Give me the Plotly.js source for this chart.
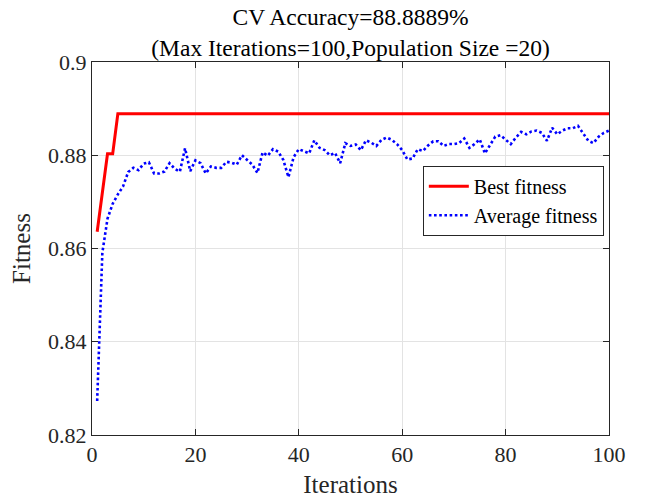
<!DOCTYPE html>
<html>
<head>
<meta charset="utf-8">
<script src="https://cdn.plot.ly/plotly-3.0.1.min.js"></script>
<style>html,body{margin:0;padding:0;background:#fff;}#chart{width:645px;height:498px;}</style>
</head>
<body>
<div id="chart"></div>
<script>
const iterations = [1,2,3,4,5,6,7,8,9,10,11,12,13,14,15,16,17,18,19,20,
  21,22,23,24,25,26,27,28,29,30,31,32,33,34,35,36,37,38,39,40,
  41,42,43,44,45,46,47,48,49,50,51,52,53,54,55,56,57,58,59,60,
  61,62,63,64,65,66,67,68,69,70,71,72,73,74,75,76,77,78,79,80,
  81,82,83,84,85,86,87,88,89,90,91,92,93,94,95,96,97,98,99,100];

const bestFitness = [0.8636,0.8720,0.8803,0.8803,0.888889,0.888889,0.888889,0.888889,0.888889,0.888889,
  0.888889,0.888889,0.888889,0.888889,0.888889,0.888889,0.888889,0.888889,0.888889,0.888889,
  0.888889,0.888889,0.888889,0.888889,0.888889,0.888889,0.888889,0.888889,0.888889,0.888889,
  0.888889,0.888889,0.888889,0.888889,0.888889,0.888889,0.888889,0.888889,0.888889,0.888889,
  0.888889,0.888889,0.888889,0.888889,0.888889,0.888889,0.888889,0.888889,0.888889,0.888889,
  0.888889,0.888889,0.888889,0.888889,0.888889,0.888889,0.888889,0.888889,0.888889,0.888889,
  0.888889,0.888889,0.888889,0.888889,0.888889,0.888889,0.888889,0.888889,0.888889,0.888889,
  0.888889,0.888889,0.888889,0.888889,0.888889,0.888889,0.888889,0.888889,0.888889,0.888889,
  0.888889,0.888889,0.888889,0.888889,0.888889,0.888889,0.888889,0.888889,0.888889,0.888889,
  0.888889,0.888889,0.888889,0.888889,0.888889,0.888889,0.888889,0.888889,0.888889,0.888889];

const averageFitness = [0.8273,0.8591,0.8664,0.8696,0.8716,0.8733,0.8764,0.8773,0.8768,0.8782,
  0.8785,0.8761,0.8761,0.8765,0.8783,0.8771,0.8765,0.8815,0.8766,0.8789,
  0.8783,0.8761,0.8776,0.8773,0.8773,0.8786,0.8784,0.8780,0.8800,0.8789,
  0.8780,0.8762,0.8806,0.8799,0.8813,0.8808,0.8790,0.8753,0.8796,0.8813,
  0.8809,0.8804,0.8832,0.8816,0.8811,0.8800,0.8805,0.8783,0.8826,0.8820,
  0.8823,0.8811,0.8832,0.8827,0.8820,0.8833,0.8838,0.8833,0.8824,0.8811,
  0.8791,0.8793,0.8813,0.8809,0.8821,0.8830,0.8830,0.8820,0.8824,0.8824,
  0.8826,0.8836,0.8816,0.8824,0.8834,0.8804,0.8822,0.8840,0.8843,0.8834,
  0.8824,0.8838,0.8850,0.8845,0.8851,0.8853,0.8848,0.8831,0.8859,0.8845,
  0.8853,0.8858,0.8858,0.8863,0.8848,0.8831,0.8826,0.8840,0.8848,0.8853];

const xTickVals = [0,20,40,60,80,100];
const yTickVals = [0.82,0.84,0.86,0.88,0.9];
const yTickText = ['0.82','0.84','0.86','0.88','0.9'];

const FONT = '"Liberation Serif", "Times New Roman", serif';
const AX = '#262626';

const traces = [
  {x: iterations, y: bestFitness, type: 'scatter', mode: 'lines', name: 'Best fitness',
   line: {color: '#ff0000', width: 3}},
  {x: iterations, y: averageFitness, type: 'scatter', mode: 'lines', name: 'Average fitness',
   line: {color: '#0000ff', width: 2.6, dash: '2.6px,2.6px'}}
];

const layout = {
  width: 645, height: 498,
  margin: {l: 92, r: 36, t: 62, b: 63},
  paper_bgcolor: '#ffffff', plot_bgcolor: '#ffffff',
  font: {family: FONT, color: AX},
  title: {text: 'CV Accuracy=88.8889%<br>(Max Iterations=100,Population Size =20)',
    font: {family: FONT, size: 23.5, color: '#000000'},
    x: 0.5, xref: 'paper', xanchor: 'center', y: 0.949, yref: 'container', yanchor: 'top'},
  xaxis: {range: [0, 100], tickvals: xTickVals, ticks: 'inside', ticklen: 6, tickcolor: AX,
    showline: true, linecolor: AX, linewidth: 1, mirror: 'ticks', zeroline: false,
    showgrid: true, gridcolor: '#e3e3e3', gridwidth: 1,
    tickfont: {family: FONT, size: 22, color: AX},
    title: {text: 'Iterations', font: {family: FONT, size: 25, color: AX}, standoff: 11}},
  yaxis: {range: [0.82, 0.9], tickvals: yTickVals, ticktext: yTickText, ticks: 'inside', ticklen: 6, tickcolor: AX,
    showline: true, linecolor: AX, linewidth: 1, mirror: 'ticks', zeroline: false,
    showgrid: true, gridcolor: '#e3e3e3', gridwidth: 1,
    tickfont: {family: FONT, size: 22, color: AX},
    title: {text: 'Fitness', font: {family: FONT, size: 25, color: AX}, standoff: 10}},
  legend: {x: 0.99, xanchor: 'right', y: 0.722, yanchor: 'top', xref: 'paper', yref: 'paper',
    bgcolor: '#ffffff', bordercolor: AX, borderwidth: 1,
    font: {family: FONT, size: 20, color: '#000000'}, itemwidth: 40, tracegroupgap: 0},
  showlegend: true
};

Plotly.newPlot('chart', traces, layout, {displayModeBar: false, staticPlot: true});
</script>
</body>
</html>
